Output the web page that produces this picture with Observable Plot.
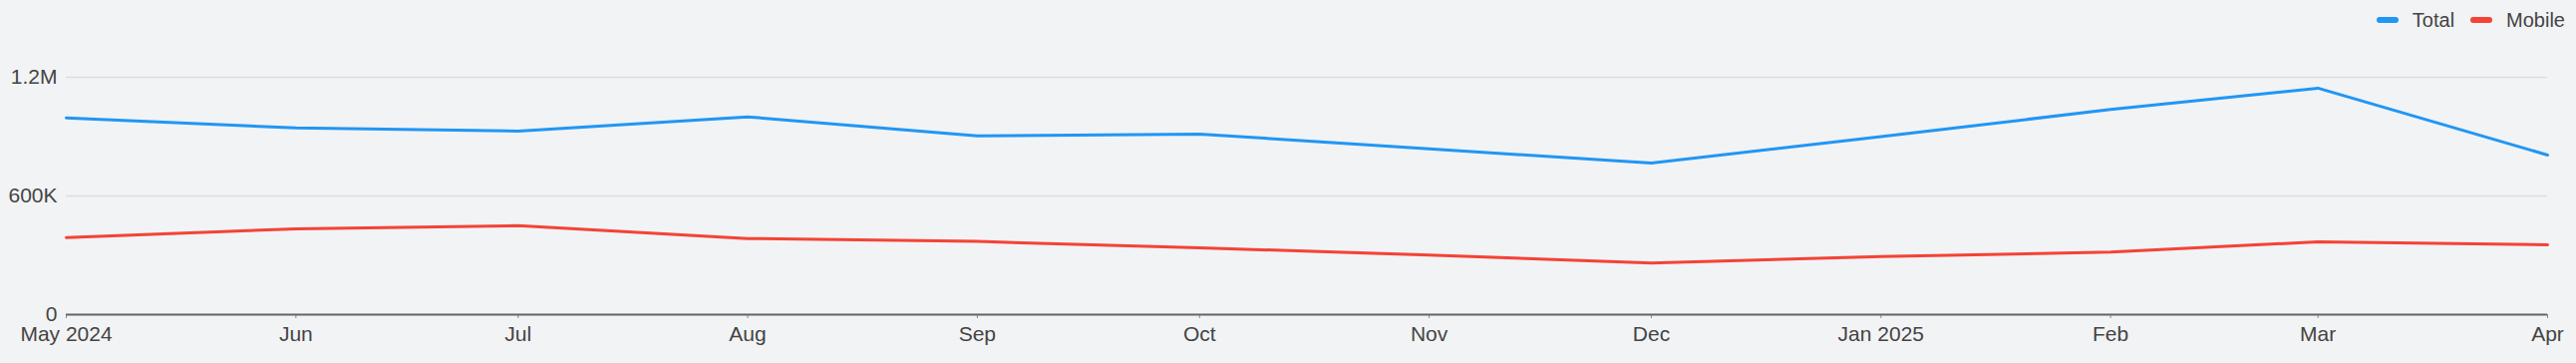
<!DOCTYPE html>
<html>
<head>
<meta charset="utf-8">
<script src="https://cdn.jsdelivr.net/npm/d3@7"></script>
<script src="https://cdn.jsdelivr.net/npm/@observablehq/plot@0.6"></script>
<style>
  html, body { margin: 0; padding: 0; background: #f2f3f5; }
  body { width: 2584px; height: 364px; overflow: hidden; font-family: "Liberation Sans", Arial, Helvetica, sans-serif; }
  #legend { height: 40px; display: flex; justify-content: flex-end; align-items: center; padding-right: 11px; box-sizing: border-box; font-size: 20px; color: #444; }
  .item { display: flex; align-items: center; margin-left: 16px; }
  .sw { width: 22px; height: 6px; border-radius: 3px; margin-right: 14px; }
  #chart svg { display: block; }
</style>
</head>
<body>
<div id="legend"></div>
<div id="chart"></div>
<script>
const months = ["2024-05-01","2024-06-01","2024-07-01","2024-08-01","2024-09-01","2024-10-01","2024-11-01","2024-12-01","2025-01-01","2025-02-01","2025-03-01","2025-04-01"];
const totalValues = [995000, 944000, 928000, 1000000, 904000, 913000, 838000, 766000, 900000, 1037000, 1145000, 807000];
const mobileValues = [390000, 434000, 450000, 385000, 370000, 338000, 301000, 261000, 294000, 316000, 368000, 353000];
const seriesNames = ["Total", "Mobile"];
const seriesColors = ["#2196f3", "#f44336"];
const yTicks = [0, 600000, 1200000];

const parse = d3.utcParse("%Y-%m-%d");
const data = [];
months.forEach((m, i) => {
  data.push({date: parse(m), value: totalValues[i], series: "Total"});
  data.push({date: parse(m), value: mobileValues[i], series: "Mobile"});
});

const legend = document.getElementById("legend");
seriesNames.forEach((n, i) => {
  const it = document.createElement("div");
  it.className = "item";
  it.innerHTML = `<div class="sw" style="background:${seriesColors[i]}"></div><span>${n}</span>`;
  legend.appendChild(it);
});

const fmtY = v => v === 0 ? "0" : v >= 1e6 ? (v / 1e6) + "M" : (v / 1e3) + "K";
const fmtX = (d, i) => (i === 0 || d.getUTCMonth() === 0) ? d3.utcFormat("%b %Y")(d) : d3.utcFormat("%b")(d);

const chart = Plot.plot({
  width: 2584,
  height: 324,
  marginLeft: 66,
  marginRight: 29,
  marginTop: 37,
  marginBottom: 49,
  style: {background: "#f2f3f5", fontSize: "21px", fontFamily: "'Liberation Sans', Arial, Helvetica, sans-serif", color: "#444"},
  x: {type: "utc", domain: [parse(months[0]), parse(months[months.length - 1])]},
  y: {domain: [0, 1200000]},
  color: {domain: seriesNames, range: seriesColors},
  marks: [
    Plot.gridY(yTicks, {stroke: "#dcdde0", strokeOpacity: 1, strokeWidth: 1.5}),
    Plot.axisY(yTicks, {tickSize: 0, tickPadding: 9, tickFormat: fmtY, label: null, fill: "#444"}),
    Plot.axisX(months.map(parse), {tickSize: 4, tickPadding: 8, tickFormat: fmtX, label: null, stroke: "#888", fill: "#444"}),
    Plot.ruleY([0], {stroke: "#666", strokeWidth: 2}),
    Plot.line(data, {x: "date", y: "value", z: "series", stroke: "series", strokeWidth: 3, curve: "linear"})
  ]
});
document.getElementById("chart").appendChild(chart);
</script>
</body>
</html>
